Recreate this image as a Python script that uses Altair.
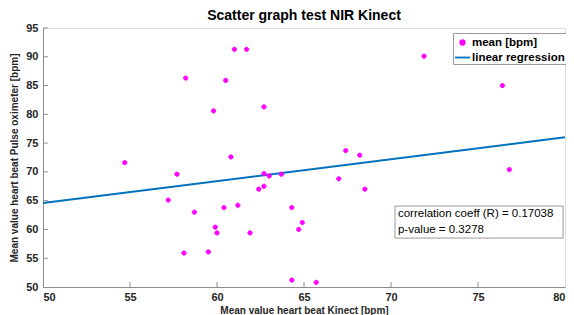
import altair as alt
import pandas as pd

# ---- data ----
mean_x = [54.7, 57.7, 57.2, 58.7, 59.9, 60.0, 58.1, 59.5, 60.4, 60.8, 61.2, 61.0,
          58.2, 60.5, 59.8, 61.7, 62.7, 67.4, 68.2, 71.9, 62.7, 63.0, 63.7, 62.4,
          62.7, 67.0, 68.5, 64.3, 64.9, 64.7, 61.9, 64.3, 65.7, 76.4, 76.8]
mean_y = [71.6, 69.6, 65.1, 63.0, 60.4, 59.4, 55.9, 56.1, 63.8, 72.6, 64.2, 91.3,
          86.3, 85.9, 80.6, 91.3, 81.3, 73.7, 72.9, 90.1, 69.7, 69.3, 69.6, 67.0,
          67.5, 68.8, 67.0, 63.8, 61.2, 60.0, 59.4, 51.2, 50.8, 85.0, 70.4]
reg_x = [50, 80]
reg_y = [64.6, 76.0]
x_ticks = [50, 55, 60, 65, 70, 75, 80]
y_ticks = [50, 55, 60, 65, 70, 75, 80, 85, 90, 95]
series = ["mean [bpm]", "linear regression"]
stats_lines = ["correlation coeff (R) = 0.17038", "p-value = 0.3278"]
stats_y = [62.7, 59.9]
stats_x = [70.4, 70.4]
box_x = [70.23]
box_x2 = [79.89]
box_y = [58.5]
box_y2 = [64.06]

MAG = "#FF00FF"
BLUE = "#0072BD"
FONT = "Liberation Sans"
AX = "#8c8c8c"
LAB = "#262626"

pts = pd.DataFrame({"x": mean_x, "y": mean_y, "series": series[0]})
reg = pd.DataFrame({"x": reg_x, "y": reg_y})
xt = pd.DataFrame({"x": x_ticks[1:-1], "y": 50, "y2": 50.85})
yt = pd.DataFrame({"y": y_ticks[1:], "x": 50, "x2": 50.28})
stats = pd.DataFrame({"x": stats_x, "y": stats_y, "t": stats_lines})
box = pd.DataFrame({"x": box_x, "x2": box_x2, "y": box_y, "y2": box_y2})

xs = alt.Scale(domain=[50, 80], nice=False, zero=False)
ys = alt.Scale(domain=[50, 95], nice=False, zero=False)

x_axis = alt.Axis(values=x_ticks, title="Mean value heart beat Kinect [bpm]", grid=False,
                  ticks=False, labelFont=FONT, labelFontSize=11, labelFontWeight="bold",
                  labelColor=LAB, domainColor=AX, labelPadding=4, labelOverlap=False,
                  titleFont=FONT, titleFontSize=10, titleFontWeight="bold", titleColor=LAB,
                  titlePadding=3)
y_axis = alt.Axis(values=y_ticks, title="Mean value heart beat Pulse oximeter [bpm]", grid=False,
                  ticks=False, labelFont=FONT, labelFontSize=11, labelFontWeight="bold",
                  labelColor=LAB, domainColor=AX, labelPadding=5, labelOverlap=False,
                  titleFont=FONT, titleFontSize=10, titleFontWeight="bold", titleColor=LAB,
                  titlePadding=6)

X = alt.X("x:Q", scale=xs, axis=x_axis)
Y = alt.Y("y:Q", scale=ys, axis=y_axis)

line = alt.Chart(reg).mark_line(color=BLUE, strokeWidth=2).encode(x=X, y=Y)

circle_path = "M-0.3,0a0.3,0.3 0 1,0 0.6,0a0.3,0.3 0 1,0 -0.6,0Z"
points = alt.Chart(pts).mark_point(filled=False, fill=MAG, opacity=1, size=200, strokeWidth=1).encode(
    x=X, y=Y,
    color=alt.Color("series:N", scale=alt.Scale(domain=series, range=[MAG, BLUE]),
                    legend=alt.Legend(title=None, orient="none", legendX=410, legendY=5,
                                      strokeColor="#9a9a9a", fillColor="white", padding=1,
                                      labelFont=FONT, labelFontSize=11.5, labelFontWeight="bold",
                                      labelColor="black", symbolSize=225, symbolStrokeWidth=1.8,
                                      labelOffset=1, rowPadding=0)),
    shape=alt.Shape("series:N", scale=alt.Scale(domain=series, range=[circle_path, "M-1,0L1,0"]),
                    legend=None),
)

xtick = alt.Chart(xt).mark_rule(color=AX, strokeWidth=1).encode(x=X, y=Y, y2="y2:Q")
ytick = alt.Chart(yt).mark_rule(color=AX, strokeWidth=1).encode(y=Y, x=X, x2="x2:Q")

boxm = alt.Chart(box).mark_rect(fill="white", stroke="#9a9a9a", strokeWidth=1).encode(
    x=X, x2="x2:Q", y=Y, y2="y2:Q")
txt = alt.Chart(stats).mark_text(align="left", baseline="middle", font=FONT, fontSize=11.5,
                                 color="black").encode(x=X, y=Y, text="t:N")

chart = alt.layer(xtick, ytick, line, points, boxm, txt).properties(
    width=522, height=259,
    title=alt.TitleParams("Scatter graph test NIR Kinect", font=FONT, fontSize=14,
                          fontWeight="bold", color="black", anchor="middle", offset=-1,
                          frame="group"),
    autosize="none",
    padding={"left": 35, "top": 20, "right": 1, "bottom": 31},
).configure_view(stroke=None).configure(background="white")

chart.save("out.html", embed_options={"renderer": "svg", "actions": False})
